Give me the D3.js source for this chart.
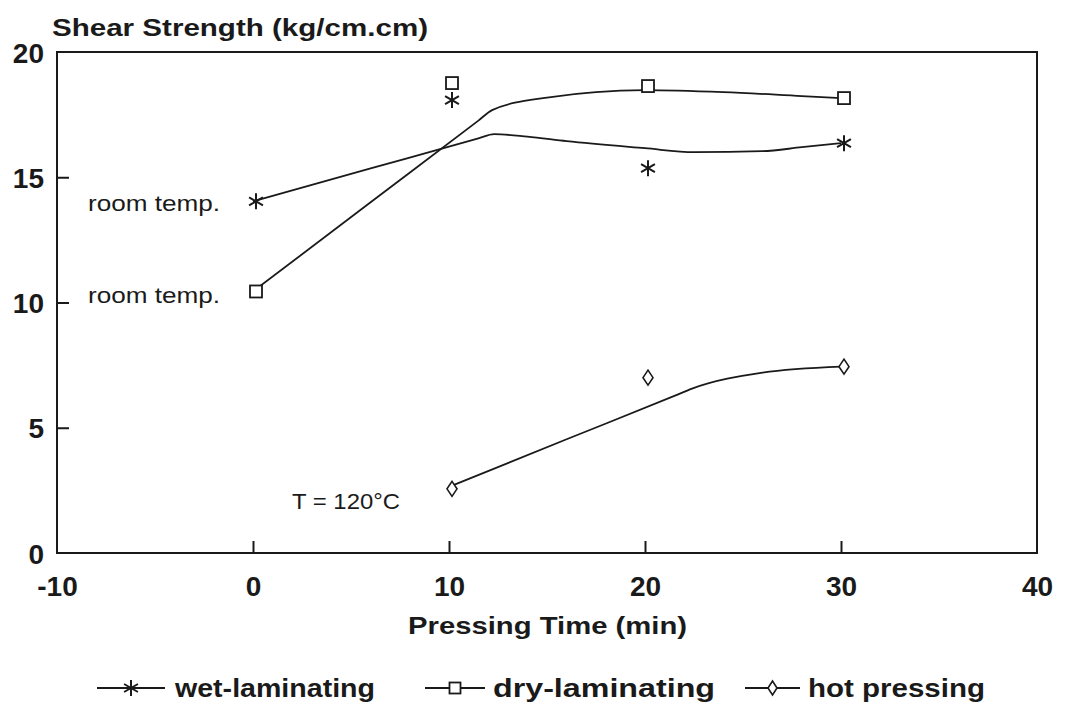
<!DOCTYPE html>
<html><head><meta charset="utf-8">
<script src="https://cdn.jsdelivr.net/npm/d3@7"></script>
<style>body{margin:0;background:#fff}svg{display:block}</style>
</head><body>
<svg id="c" width="1079" height="706"></svg>
<script>
// ---- data ----
const xTickValues = [-10, 0, 10, 20, 30, 40];
const yTickValues = [0, 5, 10, 15, 20];
const times = [0, 10, 20, 30];
const wetValues = [14.04, 18.08, 15.36, 16.36];
const dryValues = [10.44, 18.76, 18.64, 18.16];
const hotTimes = [10, 20, 30];
const hotValues = [2.56, 7.0, 7.44];
// fitted (smoothed) curves drawn in the figure
const wetFitX = [0, 6, 11.5, 12.3, 14, 16, 20, 22.5, 26, 28, 30];
const wetFitY = [14.04, 15.35, 16.55, 16.72, 16.62, 16.44, 16.16, 16.0, 16.04, 16.2, 16.36];
const dryFitX = [0, 6, 11.5, 12.2, 15, 20, 24, 28, 30];
const dryFitY = [10.44, 14.0, 17.26, 17.68, 18.18, 18.48, 18.4, 18.24, 18.16];
const hotFitX = [10, 16, 21.5, 22.4, 26, 30];
const hotFitY = [2.64, 4.54, 6.27, 6.56, 7.2, 7.44];
const seriesNames = ["wet-laminating", "dry-laminating", "hot pressing"];
const yTitle = "Shear Strength (kg/cm.cm)";
const xTitle = "Pressing Time (min)";
const annotations = [
  {text: "room temp.", x: 88, y: 211, w: 132},
  {text: "room temp.", x: 88, y: 303, w: 132},
  {text: "T = 120°C", x: 292, y: 509, w: 108}
];

// ---- layout ----
const svg = d3.select("#c");
const L = 57, R = 1037, T = 52, B = 553;
const x = d3.scaleLinear().domain([-10, 40]).range([L, R]);
const y = d3.scaleLinear().domain([0, 20]).range([B, T]);
const ink = "#1a1a1a";
const font = "'Liberation Sans', Arial, sans-serif";

// frame
svg.append("rect").attr("x", L).attr("y", T).attr("width", R - L).attr("height", B - T)
  .attr("fill", "none").attr("stroke", ink).attr("stroke-width", 2);

// x axis ticks (inward) and labels
const xAxis = d3.axisBottom(x).tickValues(xTickValues).tickSize(0).tickPadding(0)
  .tickFormat(d => String(d));
const gx = svg.append("g").attr("transform", `translate(0,${B})`).call(xAxis);
gx.select(".domain").remove();
gx.selectAll(".tick text").attr("y", 43).attr("dy", 0)
  .attr("font-family", font).attr("font-weight", "bold").attr("font-size", 28).attr("fill", ink);
gx.selectAll(".tick").filter(d => d > -10 && d < 40).append("line")
  .attr("y1", 0).attr("y2", -12).attr("stroke", ink).attr("stroke-width", 2);

// y axis
const yAxis = d3.axisLeft(y).tickValues(yTickValues).tickSize(0).tickPadding(0)
  .tickFormat(d => String(d));
const gy = svg.append("g").attr("transform", `translate(${L},0)`).call(yAxis);
gy.select(".domain").remove();
gy.selectAll(".tick text").attr("x", -13).attr("dy", "0.36em")
  .attr("font-family", font).attr("font-weight", "bold").attr("font-size", 28).attr("fill", ink);
gy.selectAll(".tick").filter(d => d > 0 && d < 20).append("line")
  .attr("x1", 0).attr("x2", 12).attr("stroke", ink).attr("stroke-width", 2);

// titles
svg.append("text").attr("x", 52).attr("y", 36).text(yTitle)
  .attr("font-family", font).attr("font-weight", "bold").attr("font-size", 24).attr("fill", ink)
  .attr("textLength", 376).attr("lengthAdjust", "spacingAndGlyphs");
svg.append("text").attr("x", 408).attr("y", 634).text(xTitle)
  .attr("font-family", font).attr("font-weight", "bold").attr("font-size", 24).attr("fill", ink)
  .attr("textLength", 279).attr("lengthAdjust", "spacingAndGlyphs");

// annotations
annotations.forEach(a => {
  svg.append("text").attr("x", a.x).attr("y", a.y).text(a.text)
    .attr("font-family", font).attr("font-size", 22).attr("fill", ink)
    .attr("textLength", a.w).attr("lengthAdjust", "spacingAndGlyphs");
});

// fitted curves
const line = d3.line().x(d => x(d[0])).y(d => y(d[1])).curve(d3.curveMonotoneX);
[[wetFitX, wetFitY], [dryFitX, dryFitY], [hotFitX, hotFitY]].forEach(([xs, ys]) => {
  svg.append("path").datum(xs.map((v, i) => [v, ys[i]])).attr("d", line)
    .attr("fill", "none").attr("stroke", ink).attr("stroke-width", 1.8);
});

// markers
function asterisk(g, cx, cy, r) {
  const p = d3.path();
  for (let k = 0; k < 3; k++) {
    const a = Math.PI / 2 + k * Math.PI / 3;
    p.moveTo(cx + r * Math.cos(a), cy + r * Math.sin(a));
    p.lineTo(cx - r * Math.cos(a), cy - r * Math.sin(a));
  }
  g.append("path").attr("d", p.toString()).attr("stroke", ink).attr("stroke-width", 2).attr("fill", "none");
}
function square(g, cx, cy, s) {
  g.append("rect").attr("x", cx - s / 2).attr("y", cy - s / 2).attr("width", s).attr("height", s)
    .attr("fill", "#fff").attr("stroke", ink).attr("stroke-width", 1.8);
}
function diamond(g, cx, cy, w, h) {
  g.append("path").attr("d", `M${cx},${cy - h / 2}L${cx + w / 2},${cy}L${cx},${cy + h / 2}L${cx - w / 2},${cy}Z`)
    .attr("fill", "#fff").attr("stroke", ink).attr("stroke-width", 1.6);
}
const gm = svg.append("g");
times.forEach((t, i) => asterisk(gm, x(t) + 3, y(wetValues[i]), 8));
times.forEach((t, i) => square(gm, x(t) + 3, y(dryValues[i]), 12));
hotTimes.forEach((t, i) => diamond(gm, x(t) + 3, y(hotValues[i]), 10, 15));

// legend
const legY = 688;
const legItems = [
  {x1: 97, x2: 165, tx: 175, tw: 200, m: (g, cx) => asterisk(g, cx, legY, 8)},
  {x1: 425, x2: 485, tx: 493, tw: 222, m: (g, cx) => square(g, cx, legY, 11)},
  {x1: 745, x2: 800, tx: 808, tw: 177, m: (g, cx) => diamond(g, cx, legY, 9, 14)}
];
legItems.forEach((it, i) => {
  const g = svg.append("g");
  g.append("line").attr("x1", it.x1).attr("x2", it.x2).attr("y1", legY).attr("y2", legY)
    .attr("stroke", ink).attr("stroke-width", 2);
  it.m(g, (it.x1 + it.x2) / 2);
  g.append("text").attr("x", it.tx).attr("y", legY + 9).text(seriesNames[i])
    .attr("font-family", font).attr("font-weight", "bold").attr("font-size", 25).attr("fill", ink)
    .attr("textLength", it.tw).attr("lengthAdjust", "spacingAndGlyphs");
});
</script>
</body></html>
